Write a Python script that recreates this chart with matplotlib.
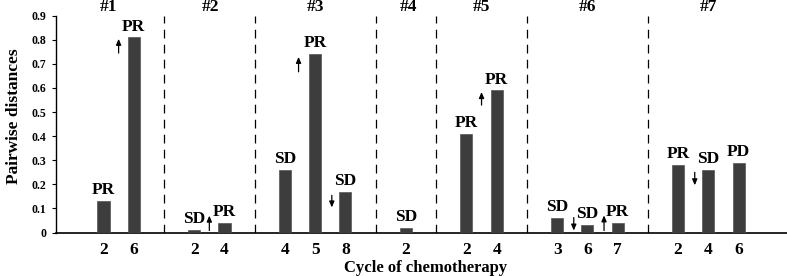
import matplotlib
matplotlib.use("Agg")
import matplotlib.pyplot as plt

# ---- data ----
groups = ["#1", "#2", "#3", "#4", "#5", "#6", "#7"]
group_header_pos = [0.17, 3.55, 7.0, 10.1, 12.5, 16.0, 20.0]
bar_pos = [0, 1, 3, 4, 6, 7, 8, 10, 12, 13, 15, 16, 17, 19, 20, 21]
cycles = ["2", "6", "2", "4", "4", "5", "8", "2", "2", "4", "3", "6", "7", "2", "4", "6"]
distances = [0.13, 0.81, 0.01, 0.04, 0.26, 0.74, 0.17, 0.02, 0.41, 0.59,
             0.06, 0.03, 0.04, 0.28, 0.26, 0.29]
responses = ["PR", "PR", "SD", "PR", "SD", "PR", "SD", "SD", "PR", "PR",
             "SD", "SD", "PR", "PR", "SD", "PD"]
divider_pos = [2, 5, 9, 11, 14, 18]
arrow_x = [0.5, 3.5, 6.45, 7.55, 12.5, 15.55, 16.55, 19.55]
arrow_dir = ["up", "up", "up", "down", "up", "down", "up", "down"]
arrow_low = [0.745, 0.008, 0.667, 0.104, 0.529, 0.008, 0.008, 0.196]
arrow_high = [0.804, 0.070, 0.729, 0.154, 0.583, 0.062, 0.071, 0.250]
yticks = [0, 0.1, 0.2, 0.3, 0.4, 0.5, 0.6, 0.7, 0.8, 0.9]
ytick_labels = ["0", "0.1", "0.2", "0.3", "0.4", "0.5", "0.6", "0.7", "0.8", "0.9"]

serif = "Liberation Serif"
fig = plt.figure(figsize=(7.87, 2.76), dpi=100)
ax = fig.add_axes([56 / 787, 1 - 232.5 / 276, 1 - 56 / 787, (232.5 - 15.7) / 276])

ax.bar(bar_pos, distances, width=0.4, color="#3d3d3d", edgecolor="#555555", linewidth=0.5, zorder=3)

for x, v, r in zip(bar_pos, distances, responses):
    ax.annotate(r, (x, v), xytext=(0, 2), textcoords="offset points",
                ha="center", va="bottom", fontsize=12.5, fontweight="bold", family=serif)

for x in divider_pos:
    ax.axvline(x, color="black", lw=0.9, ls=(0, (7, 5)), zorder=1)

for x, d, lo, hi in zip(arrow_x, arrow_dir, arrow_low, arrow_high):
    start, end = (lo, hi) if d == "up" else (hi, lo)
    ax.annotate("", xy=(x, end), xytext=(x, start),
                arrowprops=dict(arrowstyle="-|>,head_length=0.35,head_width=0.15",
                                color="black", lw=0.9, shrinkA=0, shrinkB=0))

for x, g in zip(group_header_pos, groups):
    ax.text(x, 0.935, g, ha="center", va="center", fontsize=12.5, fontweight="bold", family=serif)

ax.set_xlim(-1.57, 22.6)
ax.set_ylim(0, 0.9)
ax.set_xticks(bar_pos)
ax.set_xticklabels(cycles, fontsize=12.5, fontweight="bold", family=serif)
ax.tick_params(axis="x", length=0, pad=7)
ax.set_yticks(yticks)
ax.set_yticklabels(ytick_labels, fontsize=8.5, fontweight="bold", family=serif)
ax.tick_params(axis="y", length=3, width=0.8, pad=4)
for s in ["top", "right"]:
    ax.spines[s].set_visible(False)
ax.spines["left"].set_linewidth(1.0)
ax.spines["bottom"].set_linewidth(1.2)

ax.set_ylabel("Pairwise distances", fontsize=12.5, fontweight="bold", family=serif)
ax.yaxis.set_label_coords(-0.046, 0.537)
ax.set_xlabel("Cycle of chemotherapy", fontsize=12, fontweight="bold", family=serif)
ax.xaxis.set_label_coords(0.505, -0.128)

fig.savefig("out.png", dpi=100)
